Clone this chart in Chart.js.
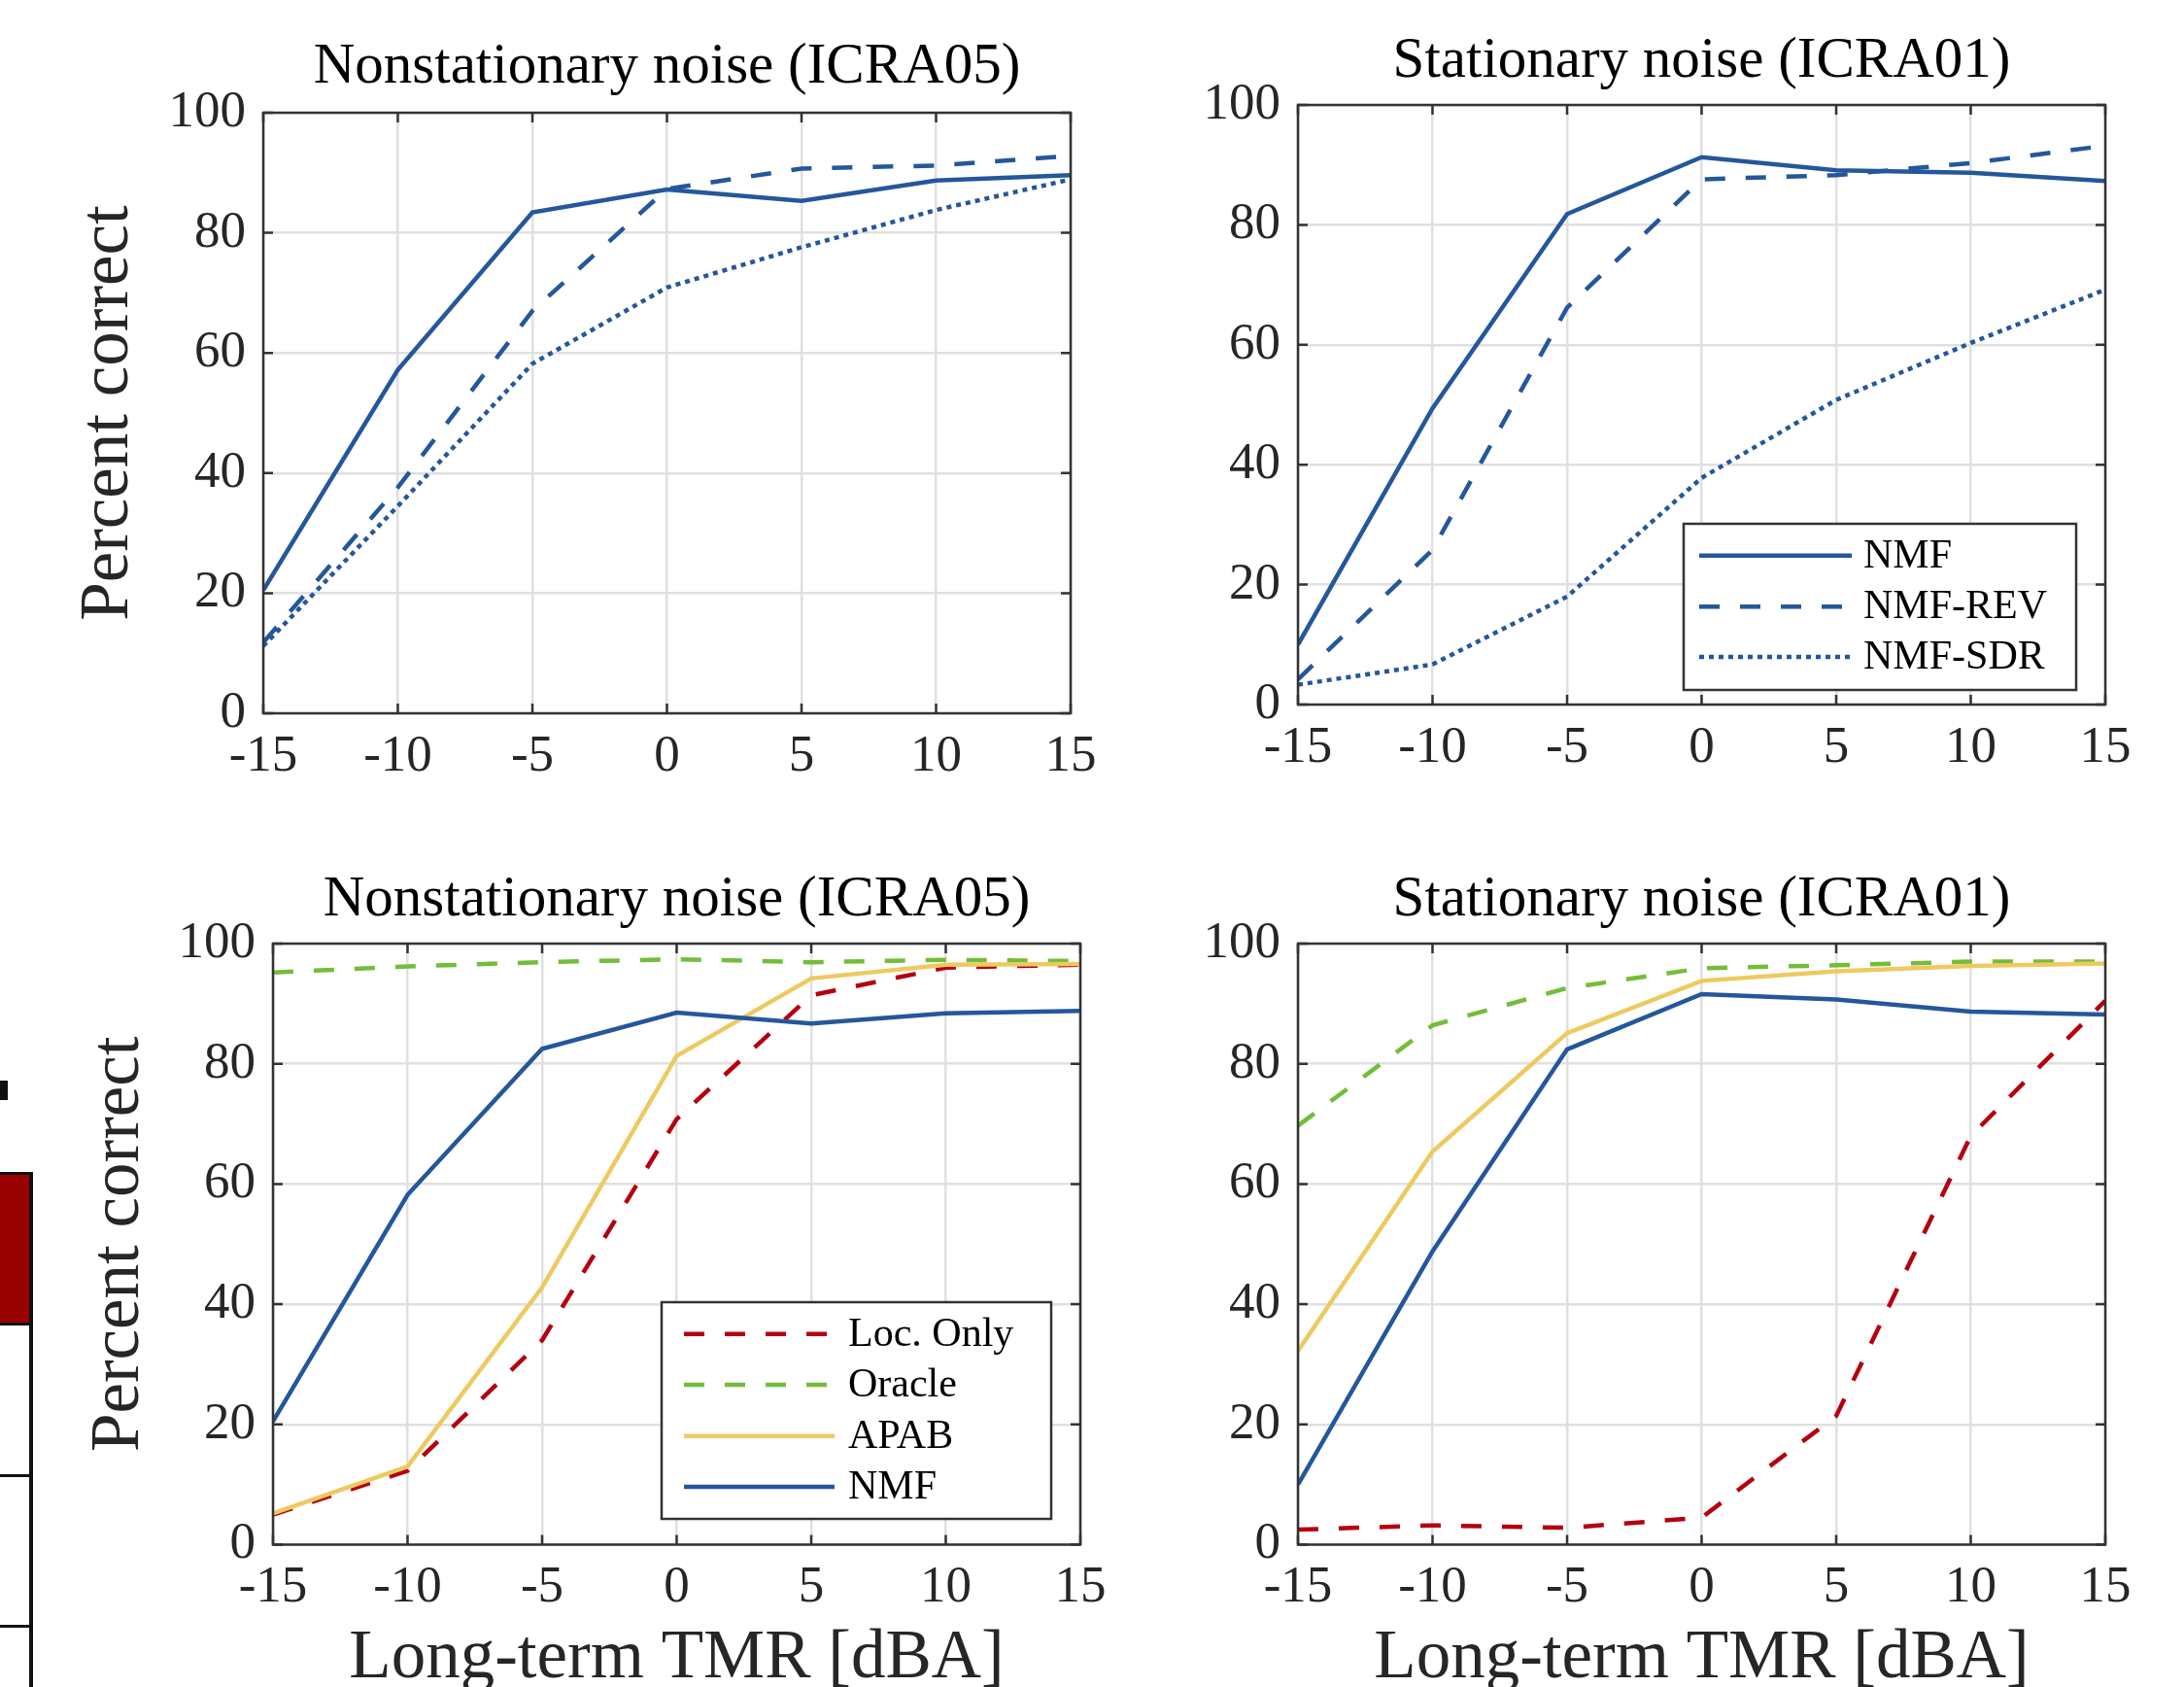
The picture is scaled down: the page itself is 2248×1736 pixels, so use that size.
<!DOCTYPE html>
<html>
<head>
<meta charset="utf-8">
<title>Percent correct vs long-term TMR</title>
<script src="https://cdn.jsdelivr.net/npm/chart.js@4.4.1/dist/chart.umd.min.js"></script>
<style>
  html, body { margin: 0; padding: 0; background: #fff; width: 2248px; height: 1736px; overflow: hidden; }
  canvas { position: absolute; }
  .cut { position: absolute; background: #111; }
</style>
</head>
<body>
<!-- cropped-off bit of a neighbouring figure on the left edge -->
<div class="cut" style="left:0;top:1208px;width:31px;height:154px;background:#990000"></div>
<div class="cut" style="left:30px;top:1206px;width:4px;height:530px"></div>
<div class="cut" style="left:0;top:1206px;width:34px;height:3px"></div>
<div class="cut" style="left:0;top:1361px;width:34px;height:3px"></div>
<div class="cut" style="left:0;top:1517px;width:34px;height:3px"></div>
<div class="cut" style="left:0;top:1672px;width:34px;height:3px"></div>
<div class="cut" style="left:0;top:1112px;width:8px;height:20px"></div>

<canvas id="chart-tl" width="1170" height="868" style="left:0;top:0"></canvas>
<canvas id="chart-tr" width="1124" height="868" style="left:1124px;top:0"></canvas>
<canvas id="chart-bl" width="1170" height="900" style="left:0;top:868px"></canvas>
<canvas id="chart-br" width="1124" height="900" style="left:1124px;top:868px"></canvas>

<script>
// x positions (long-term TMR, dBA) and axis ticks
const tmrLevels = [-15, -10, -5, 0, 5, 10, 15];
const xTickValues = [-15, -10, -5, 0, 5, 10, 15];
const yTickValues = [0, 20, 40, 60, 80, 100];

const titleNonstat = 'Nonstationary noise (ICRA05)';
const titleStat = 'Stationary noise (ICRA01)';
const yAxisLabel = 'Percent correct';
const xAxisLabel = 'Long-term TMR [dBA]';

// top row: NMF variants
const icra05Nmf    = [20.5, 57.2, 83.4, 87.2, 85.3, 88.7, 89.6];
const icra05NmfRev = [11.8, 37.6, 67.0, 87.3, 90.7, 91.2, 92.8];
const icra05NmfSdr = [11.2, 34.5, 58.2, 70.9, 77.6, 83.8, 88.9];

const icra01Nmf    = [10.0, 49.4, 81.8, 91.3, 89.1, 88.7, 87.3];
const icra01NmfRev = [4.2, 25.8, 66.2, 87.6, 88.3, 90.3, 93.2];
const icra01NmfSdr = [3.3, 6.7, 18.0, 37.8, 50.8, 60.3, 69.2];

// bottom row: comparison with localisation / oracle / APAB
const icra05Loc    = [5.0, 12.3, 34.0, 70.8, 91.4, 96.0, 96.5];
const icra05Oracle = [95.2, 96.2, 96.9, 97.4, 96.9, 97.3, 97.1];
const icra05Apab   = [5.2, 13.0, 42.8, 81.3, 94.2, 96.5, 96.6];
const icra05NmfCmp = [20.5, 58.2, 82.5, 88.5, 86.7, 88.4, 88.8];

const icra01Loc    = [2.5, 3.2, 2.8, 4.5, 21.4, 68.0, 90.5];
const icra01Oracle = [69.7, 86.4, 92.6, 95.9, 96.4, 97.0, 97.0];
const icra01Apab   = [32.2, 65.4, 85.1, 93.8, 95.4, 96.3, 96.7];
const icra01NmfCmp = [10.0, 48.8, 82.4, 91.6, 90.7, 88.7, 88.2];

const BLUE = '#24579b';
const RED = '#b5000f';
const GREEN = '#74bd3a';
const YELLOW = '#edca60';
const AXIS = '#333333';
const SERIF = '"Liberation Serif", "Times New Roman", serif';

Chart.defaults.font.family = SERIF;

const DASH = [21, 21];
const DOT = [5, 5];

function series(label, values, color, dash) {
    return {
        label: label,
        data: values.map((v, i) => ({ x: tmrLevels[i], y: v })),
        borderColor: color,
        backgroundColor: color,
        borderWidth: 4.5,
        borderDash: dash || [],
        borderCapStyle: 'butt',
        pointRadius: 0,
        tension: 0,
        fill: false,
    };
}

// MATLAB-like box with inward tick marks
const axesBox = {
    id: 'axesBox',
    afterDatasetsDraw(chart) {
        const { ctx, chartArea: a, scales } = chart;
        const len = 10;
        ctx.save();
        ctx.strokeStyle = AXIS;
        ctx.lineWidth = 2.5;
        ctx.setLineDash([]);
        ctx.beginPath();
        scales.x.ticks.forEach(t => {
            const px = scales.x.getPixelForValue(t.value);
            ctx.moveTo(px, a.top); ctx.lineTo(px, a.top + len);
            ctx.moveTo(px, a.bottom); ctx.lineTo(px, a.bottom - len);
        });
        scales.y.ticks.forEach(t => {
            const py = scales.y.getPixelForValue(t.value);
            ctx.moveTo(a.left, py); ctx.lineTo(a.left + len, py);
            ctx.moveTo(a.right, py); ctx.lineTo(a.right - len, py);
        });
        ctx.stroke();
        ctx.strokeRect(a.left, a.top, a.right - a.left, a.bottom - a.top);
        ctx.restore();
    }
};

// legend box drawn inside the axes, samples taken from the datasets
const boxLegend = {
    id: 'boxLegend',
    afterDraw(chart, args, opts) {
        const { ctx } = chart;
        const b = opts.box;
        ctx.save();
        ctx.fillStyle = '#ffffff';
        ctx.fillRect(b[0], b[1], b[2], b[3]);
        ctx.strokeStyle = AXIS;
        ctx.lineWidth = 2.5;
        ctx.setLineDash([]);
        ctx.strokeRect(b[0], b[1], b[2], b[3]);
        ctx.font = opts.fontSize + 'px ' + SERIF;
        ctx.textBaseline = 'alphabetic';
        ctx.textAlign = 'left';
        chart.data.datasets.forEach((ds, i) => {
            const y = opts.rows[i];
            ctx.strokeStyle = ds.borderColor;
            ctx.lineWidth = ds.borderWidth;
            ctx.lineCap = 'butt';
            ctx.setLineDash(ds.borderDash || []);
            ctx.beginPath();
            ctx.moveTo(opts.lineX, y);
            ctx.lineTo(opts.lineX + opts.lineLen, y);
            ctx.stroke();
            ctx.fillStyle = '#000';
            ctx.fillText(ds.label, opts.textX, y + 12);
        });
        ctx.restore();
    }
};

function makePanel(id, cfg) {
    const datasets = cfg.datasets.map((d, i, arr) => Object.assign(d, { order: arr.length - 1 - i }));
    return new Chart(document.getElementById(id), {
        type: 'line',
        data: { datasets: datasets },
        plugins: [axesBox, boxLegend],
        options: {
            responsive: false,
            animation: false,
            events: [],
            layout: { padding: cfg.padding },
            plugins: {
                legend: { display: false },
                tooltip: { enabled: false },
                title: {
                    display: true,
                    text: cfg.title,
                    fullSize: false,
                    color: '#000',
                    font: { size: 59, weight: 'normal', lineHeight: 1.2 },
                    padding: cfg.titlePad,
                },
                boxLegend: cfg.legend || false,
            },
            scales: {
                x: {
                    type: 'linear',
                    min: -15,
                    max: 15,
                    afterBuildTicks: s => { s.ticks = xTickValues.map(v => ({ value: v })); },
                    afterFit: s => { s.height = cfg.xHeight; },
                    ticks: {
                        color: '#262626',
                        padding: 13,
                        maxRotation: 0,
                        font: { size: 53, lineHeight: 1.2 },
                    },
                    grid: { color: '#e0e0e0', lineWidth: 2.5, drawTicks: false },
                    border: { display: false },
                    title: {
                        display: !!cfg.xTitle,
                        text: xAxisLabel,
                        color: '#262626',
                        font: { size: 71, lineHeight: 1.2 },
                        padding: { top: 0, bottom: 0 },
                    },
                },
                y: {
                    min: 0,
                    max: 100,
                    afterBuildTicks: s => { s.ticks = yTickValues.map(v => ({ value: v })); },
                    afterFit: s => { s.width = cfg.yWidth; },
                    ticks: {
                        color: '#262626',
                        padding: 18,
                        font: { size: 53, lineHeight: 1.2 },
                    },
                    grid: { color: '#e0e0e0', lineWidth: 2.5, drawTicks: false },
                    border: { display: false },
                    title: {
                        display: !!cfg.yTitle,
                        text: yAxisLabel,
                        color: '#262626',
                        font: { size: 71, lineHeight: 1.2 },
                        padding: { top: cfg.yTitlePad || 0, bottom: 0 },
                    },
                },
            },
        },
    });
}

// top-left
makePanel('chart-tl', {
    title: titleNonstat,
    titlePad: { top: 33.6, bottom: 11.6 },
    padding: { left: 0, right: 68, top: 0, bottom: 34 },
    yWidth: 271,
    xHeight: 100,
    yTitle: true,
    yTitlePad: 69.4,
    datasets: [
        series('NMF', icra05Nmf, BLUE),
        series('NMF-REV', icra05NmfRev, BLUE, DASH),
        series('NMF-SDR', icra05NmfSdr, BLUE, DOT),
    ],
});

// top-right
makePanel('chart-tr', {
    title: titleStat,
    titlePad: { top: 28, bottom: 9.2 },
    padding: { left: 0, right: 81, top: 0, bottom: 43 },
    yWidth: 212,
    xHeight: 100,
    legend: {
        box: [609, 539, 404, 171],
        rows: [571.7, 624.3, 676],
        lineX: 625,
        lineLen: 157,
        textX: 794,
        fontSize: 42,
    },
    datasets: [
        series('NMF', icra01Nmf, BLUE),
        series('NMF-REV', icra01NmfRev, BLUE, DASH),
        series('NMF-SDR', icra01NmfSdr, BLUE, DOT),
    ],
});

// bottom-left
makePanel('chart-bl', {
    title: titleNonstat,
    titlePad: { top: 22.6, bottom: 9.6 },
    padding: { left: 0, right: 58, top: 0, bottom: 18.4 },
    yWidth: 281,
    xHeight: 160.1,
    yTitle: true,
    yTitlePad: 80.4,
    xTitle: true,
    legend: {
        box: [681, 472, 401, 223],
        rows: [504.7, 557, 609.7, 662],
        lineX: 704,
        lineLen: 155,
        textX: 873,
        fontSize: 42,
    },
    datasets: [
        series('Loc. Only', icra05Loc, RED, DASH),
        series('Oracle', icra05Oracle, GREEN, DASH),
        series('APAB', icra05Apab, YELLOW),
        series('NMF', icra05NmfCmp, BLUE),
    ],
});

// bottom-right
makePanel('chart-br', {
    title: titleStat,
    titlePad: { top: 22.6, bottom: 9.6 },
    padding: { left: 0, right: 81, top: 0, bottom: 18.4 },
    yWidth: 212,
    xHeight: 160.1,
    xTitle: true,
    datasets: [
        series('Loc. Only', icra01Loc, RED, DASH),
        series('Oracle', icra01Oracle, GREEN, DASH),
        series('APAB', icra01Apab, YELLOW),
        series('NMF', icra01NmfCmp, BLUE),
    ],
});
</script>
</body>
</html>
